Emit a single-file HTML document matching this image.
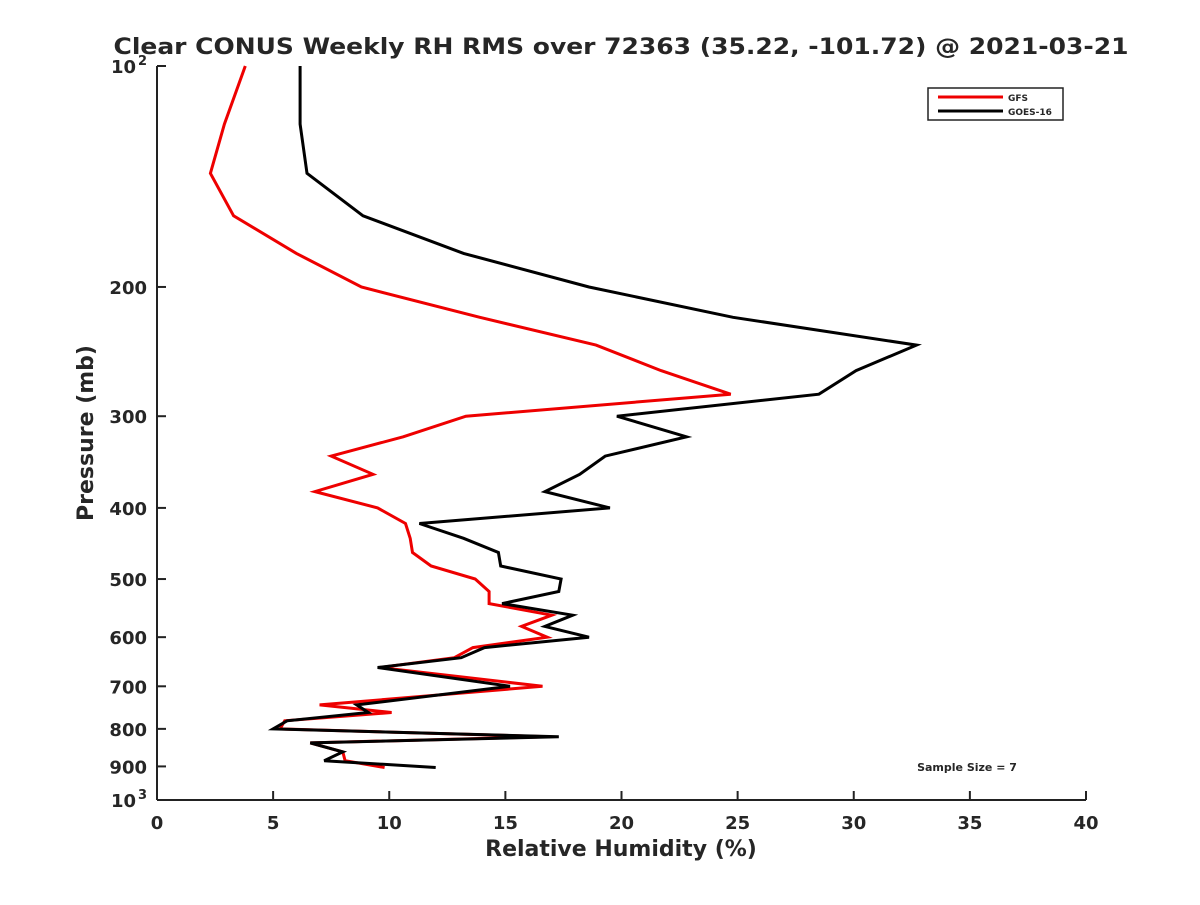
<!DOCTYPE html>
<html><head><meta charset="utf-8"><style>
body{margin:0;background:#fff;}
svg text{font-family:"DejaVu Sans","Liberation Sans",sans-serif;font-weight:bold;fill:#262626;}
</style></head><body>
<svg id="chart" width="1200" height="900" viewBox="0 0 1200 900" xmlns="http://www.w3.org/2000/svg">
<rect width="1200" height="900" fill="#fff"/>
<text x="621" y="54" font-size="22" text-anchor="middle" textLength="1015" lengthAdjust="spacingAndGlyphs">Clear CONUS Weekly RH RMS over 72363 (35.22, -101.72) @ 2021-03-21</text>
<g id="axes"></g>
<g id="series"></g>
<text x="621" y="856" font-size="22" text-anchor="middle">Relative Humidity (%)</text>
<text transform="translate(93,433) rotate(-90)" font-size="22" text-anchor="middle">Pressure (mb)</text>
<text x="967" y="771" font-size="11" text-anchor="middle">Sample Size = 7</text>
<g>
<rect x="928" y="88" width="135" height="32" fill="#fff" stroke="#222" stroke-width="1.5"/>
<line x1="938" y1="97" x2="1003" y2="97" stroke="#e00" stroke-width="3"/>
<text x="1008" y="101" font-size="9">GFS</text>
<line x1="938" y1="111" x2="1003" y2="111" stroke="#000" stroke-width="3"/>
<text x="1008" y="115" font-size="9">GOES-16</text>
</g>
</svg>
<script>
const xTicks=[0,5,10,15,20,25,30,35,40];
const yTicks=[100,200,300,400,500,600,700,800,900,1000];
const yTickLabels=["10","200","300","400","500","600","700","800","900","10"];
const yTickSups=["2","","","","","","","","","3"];
const pressure=[100,120,140,160,180,200,220,240,260,280,300,320,340,360,380,400,420,440,460,480,500,520,540,560,580,600,620,640,660,700,742,760,780,800,820,836,860,884,903];
const gfsRH=[3.8,2.9,2.3,3.3,6.0,8.8,13.9,18.9,21.7,24.7,13.3,10.6,7.5,9.3,6.8,9.5,10.7,10.9,11.0,11.8,13.7,14.3,14.3,17.0,15.7,16.8,13.6,12.8,9.6,16.6,7.0,10.1,5.5,5.3,16.9,6.6,8.0,8.1,9.8];
const goesRH=[6.16,6.16,6.46,8.87,13.2,18.6,24.8,32.7,30.1,28.5,19.8,22.8,19.3,18.2,16.7,19.5,11.3,13.2,14.7,14.8,17.4,17.3,14.86,17.9,16.7,18.6,14.1,13.1,9.5,15.2,8.6,9.1,5.6,5.0,17.3,6.6,8.0,7.2,12.0];
const X0=157,X1=1086,Y0=66,Y1=800;
const xs=v=>X0+(v-0)/(40-0)*(X1-X0);
const ys=p=>Y0+(Math.log10(p)-2)*(Y1-Y0);
const NS="http://www.w3.org/2000/svg";
function mk(t,a,parent){const e=document.createElementNS(NS,t);for(const k in a)e.setAttribute(k,a[k]);parent.appendChild(e);return e;}
const axes=document.getElementById('axes');
let l=mk('line',{x1:X0,y1:Y0,x2:X0,y2:Y1,stroke:'#222','stroke-width':2},axes);


l=mk('line',{x1:X0,y1:Y1,x2:X1,y2:Y1,stroke:'#222','stroke-width':2},axes);


xTicks.forEach(v=>{
 const t=mk('line',{x1:xs(v),y1:Y1,x2:xs(v),y2:Y1-9,stroke:'#222','stroke-width':2},axes);
 
 
 const tx=mk('text',{x:xs(v),y:Y1+29,'font-size':18,'text-anchor':'middle'},axes);
 tx.textContent=v;
 
 
});
yTicks.forEach((p,i)=>{
 const t=mk('line',{x1:X0,y1:ys(p),x2:X0+9,y2:ys(p),stroke:'#222','stroke-width':2},axes);
 
 
 const sup=yTickSups[i];
 const tx=mk('text',{x:X0-10-(sup?11:0),y:ys(p)+7,'font-size':18,'text-anchor':'end'},axes);
 tx.textContent=yTickLabels[i];
 
 
 if(sup){
  const s=mk('text',{x:X0-10,y:ys(p)-1,'font-size':13,'text-anchor':'end'},axes);
  s.textContent=sup;
  
  
 }
});
const ser=document.getElementById('series');
function line(vals,color,name){
 const d=vals.map((v,i)=>(i?'L':'M')+xs(v).toFixed(1)+','+ys(pressure[i]).toFixed(1)).join(' ');
 const p=mk('path',{d:d,fill:'none',stroke:color,'stroke-width':3,'stroke-linejoin':'miter'},ser);
 
 
}
line(gfsRH,'#e00','gfs-line');
line(goesRH,'#000','goes16-line');
</script>
</body></html>
